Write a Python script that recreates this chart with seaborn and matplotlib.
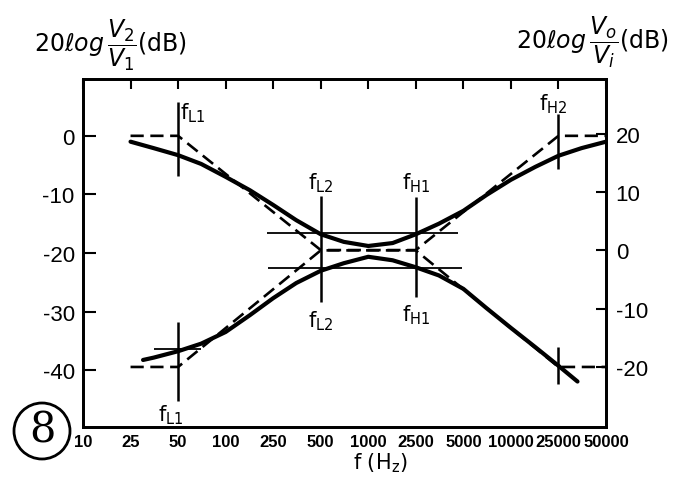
import numpy as np
import matplotlib
matplotlib.use("Agg")
import matplotlib.pyplot as plt
from matplotlib.patches import Ellipse
import seaborn as sns

# axis categories (hand drawn, evenly spaced frequency marks)
freq_ticks = [10, 25, 50, 100, 250, 500, 1000, 2500, 5000, 10000, 25000, 50000]
freq_labels = ['10', '25', '50', '100', '250', '500', '1000', '2500', '5000', '10000', '25000', '50000']
left_ticks = [0, -10, -20, -30, -40]
left_labels = ['0', '-10', '-20', '-30', '-40']
right_ticks = [20, 10, 0, -10, -20]
right_labels = ['20', '10', '0', '-10', '-20']

# V2/V1 (left axis, dB)
f_v2 = [25, 35, 50, 70, 100, 160, 250, 350, 500, 700, 1000, 1600, 2500,
        3500, 5000, 7000, 10000, 16000, 25000, 35000, 50000]
db_v2 = [-1.0, -2.1, -3.3, -4.8, -7.0, -9.3, -11.8, -14.4, -16.8, -18.1, -18.8, -18.3, -16.8,
         -15.0, -12.8, -10.1, -7.5, -5.3, -3.4, -2.1, -1.0]
f_v2_asym = [25, 50, 500, 2500, 25000, 50000]
db_v2_asym = [0, 0, -19.5, -19.5, 0, 0]

# Vo/Vi (right axis, dB)
f_vo = [30, 35, 50, 70, 100, 160, 250, 350, 500, 700, 1000, 1600, 2500,
        3500, 5000, 7000, 10000, 16000, 25000, 33000]
db_vo = [-18.8, -18.4, -17.3, -16.0, -14.0, -11.1, -8.2, -5.6, -3.5, -2.2, -1.1, -1.7, -2.9,
         -4.3, -6.6, -9.9, -13.3, -16.6, -19.8, -22.5]
f_vo_asym = [25, 50, 500, 2500, 25000, 50000]
db_vo_asym = [-20, -20, 0, 0, -20, -20]

# corner frequency marks: (freq, y_from, y_to) in left-axis dB
marks_top = [(50, 5.8, -6.9), (500, -10.3, -28.4), (2500, -10.4, -27.5), (25000, 3.7, -5.7)]
marks_bottom = [(50, -31.8, -45.3), (25000, -36.0, -42.4)]
# -3 dB guide lines (right-axis dB): (level, f_from, f_to)
guides = [(3, 220, 4600), (-3, 225, 4900), (-17, 35, 70)]


def pos(f):
    return np.interp(np.log10(f), np.log10(freq_ticks), np.arange(len(freq_ticks)))


sns.set_style("white")
plt.rcParams['font.family'] = ['Liberation Sans', 'DejaVu Sans']
plt.rcParams['mathtext.fontset'] = 'dejavusans'
for k in ('text.color', 'xtick.color', 'ytick.color', 'axes.labelcolor', 'axes.edgecolor'):
    plt.rcParams[k] = 'black'

fig = plt.figure(figsize=(6.75, 5.02), dpi=100)
ax = fig.add_axes([83 / 675, 1 - 428 / 502, (606 - 83) / 675, (428 - 80) / 502])
ax2 = ax.twinx()

dash = (0, (5, 2.5))
sns.lineplot(x=pos(f_v2), y=db_v2, ax=ax, color='black', lw=3, sort=False)
sns.lineplot(x=pos(f_v2_asym), y=db_v2_asym, ax=ax, color='black', lw=1.9, linestyle=dash, sort=False)
sns.lineplot(x=pos(f_vo), y=db_vo, ax=ax2, color='black', lw=3, sort=False)
sns.lineplot(x=pos(f_vo_asym), y=db_vo_asym, ax=ax2, color='black', lw=1.9, linestyle=dash, sort=False)

for f, y0, y1 in marks_top + marks_bottom:
    ax.vlines(pos(f), y1, y0, color='black', lw=1.8)
for lvl, f0, f1 in guides:
    ax2.hlines(lvl, pos(f0), pos(f1), color='black', lw=1.3)

lab = dict(fontsize=15, color='black', family='DejaVu Sans')
ax.text(pos(50) + 0.05, 4.0, r'f$_{\rm L1}$', ha='left', va='center', **lab)
ax.text(pos(50) - 0.15, -47.5, r'f$_{\rm L1}$', ha='center', va='center', **lab)
ax.text(pos(500), -8.0, r'f$_{\rm L2}$', ha='center', va='center', **lab)
ax.text(pos(500), -31.5, r'f$_{\rm L2}$', ha='center', va='center', **lab)
ax.text(pos(2500), -8.0, r'f$_{\rm H1}$', ha='center', va='center', **lab)
ax.text(pos(2500), -30.5, r'f$_{\rm H1}$', ha='center', va='center', **lab)
ax.text(pos(25000) - 0.1, 5.6, r'f$_{\rm H2}$', ha='center', va='center', **lab)

ax.set_xlim(0, 11)
ax.set_ylim(-49.7, 9.7)
ax2.set_ylim(-30.3, 29.4)
ax.set_xticks(range(len(freq_ticks)))
ax.set_xticklabels(freq_labels, fontsize=12, fontweight='bold')
ax.set_yticks(left_ticks)
ax.set_yticklabels(left_labels, fontsize=16)
ax2.set_yticks(right_ticks)
ax2.set_yticklabels(right_labels, fontsize=16)

ax.tick_params(axis='x', direction='in', length=7, width=1.5, top=True, pad=5)
ax.tick_params(axis='y', direction='in', length=9.5, width=1.5, pad=6)
ax2.tick_params(axis='y', direction='in', length=7, width=1.5, pad=7)
for a in (ax, ax2):
    for s in a.spines.values():
        s.set_visible(True)
        s.set_linewidth(2)
        s.set_color('black')

fig.text(110 / 675, 1 - 45 / 502, r'$20\ell og\,\dfrac{V_2}{V_1}$(dB)', fontsize=17,
         ha='center', va='center', family='DejaVu Sans')
fig.text(592 / 675, 1 - 42 / 502, r'$20\ell og\,\dfrac{V_o}{V_i}$(dB)', fontsize=17,
         ha='center', va='center', family='DejaVu Sans')
fig.text(380 / 675, 1 - 463 / 502, r'f (H$_{\rm z}$)', fontsize=15,
         ha='center', va='center', family='DejaVu Sans')

fig.patches.append(Ellipse((42 / 675, 1 - 432 / 502), 56 / 675, 56 / 502,
                           transform=fig.transFigure, fill=False, ec='black', lw=2))
fig.text(42 / 675, 1 - 431 / 502, '8', fontsize=30, ha='center', va='center', family='DejaVu Serif')

fig.savefig('out.png', dpi=100)
